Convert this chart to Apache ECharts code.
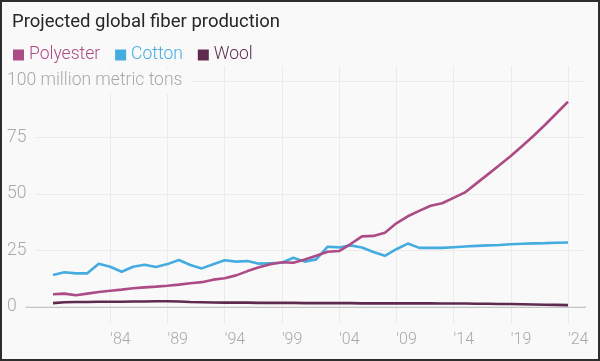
<!DOCTYPE html>
<html><head><meta charset="utf-8">
<script src="https://cdn.jsdelivr.net/npm/echarts@6/dist/echarts.min.js"></script>
<style>html,body{margin:0;padding:0;background:#f9f9f9;}#c{width:600px;height:361px;}</style>
</head><body><div id="c"></div>
<script>
const years = [];
for (let y = 1979; y <= 2024; y++) years.push(String(y));
const polyester = [5.4,5.7,5.0,5.7,6.4,7.0,7.5,8.1,8.5,8.8,9.2,9.7,10.3,10.8,11.9,12.5,13.8,15.7,17.4,18.7,19.6,19.4,20.8,22.5,24.3,24.6,27.7,31.1,31.3,32.7,36.9,40.0,42.4,44.7,45.8,48.2,50.6,54.6,58.6,62.6,66.7,71.2,75.7,80.6,85.7,90.8];
const cotton = [14.0,15.2,14.7,14.7,19.0,17.6,15.4,17.6,18.5,17.5,18.8,20.6,18.4,16.9,18.7,20.5,19.9,20.2,19.0,19.2,19.4,21.6,19.9,20.9,26.5,26.2,27.1,26.2,24.2,22.5,25.4,27.9,26.0,26.0,26.0,26.3,26.6,26.9,27.1,27.3,27.6,27.8,28.0,28.1,28.3,28.4];
const wool = [1.5,1.9,2.0,2.0,2.1,2.1,2.1,2.2,2.2,2.3,2.3,2.2,2.0,1.9,1.8,1.7,1.7,1.7,1.6,1.6,1.6,1.6,1.5,1.5,1.5,1.5,1.5,1.4,1.4,1.4,1.4,1.4,1.4,1.4,1.3,1.3,1.3,1.2,1.2,1.1,1.1,1.0,0.9,0.8,0.7,0.6];
const yTicks = [0, 25, 50, 75, 100];
const yUnit = '100 million metric tons';
const seriesNames = ['Polyester', 'Cotton', 'Wool'];
const colors = ['#ac4b85', '#45ace0', '#5e2a4e'];

const isTick = v => Number(v) >= 1984 && (Number(v) - 1984) % 5 === 0;
const chart = echarts.init(document.getElementById('c'));
const font = 'Roboto, "Noto Sans", sans-serif';
chart.setOption({
  backgroundColor: '#f9f9f9',
  animation: false,
  title: { text: 'Projected global fiber production', left: 7, top: 8,
    textStyle: { fontFamily: font, fontSize: 18.5, fontWeight: 'normal', color: '#262626' } },
  legend: { left: 8, top: 41, icon: 'rect', itemWidth: 11, itemHeight: 11, itemGap: 15,
    data: seriesNames.map((n, i) => ({ name: n, textStyle: { color: colors[i] } })),
    textStyle: { fontFamily: font, fontSize: 17.5, fontWeight: 300 } },
  graphic: [{ type: 'rect', shape: { x: 1, y: 1, width: 598, height: 359 },
    style: { fill: 'none', stroke: '#2d2d2d', lineWidth: 2 }, z: 100 }],
  grid: [
    { left: 25, right: 15, top: 81, bottom: 54.5 },
    { left: 53, right: 32, top: 66, bottom: 38 },
    { left: 53, right: 32, top: 81, bottom: 54.5 }
  ],
  xAxis: [
    { gridIndex: 0, type: 'value', min: 0, max: 1, axisLabel: { show: false }, axisTick: { show: false },
      splitLine: { show: false }, axisLine: { show: true, lineStyle: { color: '#c4c4c4', width: 2 } } },
    { gridIndex: 1, type: 'category', data: years, boundaryGap: false,
      axisLine: { show: false }, axisTick: { show: false },
      splitLine: { show: true, interval: (i, v) => isTick(v), lineStyle: { color: '#ebebeb', width: 1 } },
      axisLabel: { interval: (i, v) => isTick(v), formatter: v => "'" + String(v).slice(2),
        align: 'left', margin: 9, color: '#a8a8a8', fontFamily: font, fontSize: 16, fontWeight: 300 } },
    { gridIndex: 2, type: 'category', data: years, boundaryGap: false, show: false }
  ],
  yAxis: [
    { gridIndex: 0, type: 'value', min: 0, max: 100, interval: 25, z: 5,
      axisLine: { show: false }, axisTick: { show: false },
      splitLine: { show: true, lineStyle: { color: '#ebebeb', width: 1 } },
      axisLabel: { align: 'left', margin: 18, color: '#a8a8a8', fontFamily: font, fontSize: 17.5, fontWeight: 300,
        backgroundColor: '#f9f9f9', padding: [4, 9, 4, 0],
        formatter: v => v === 100 ? yUnit : String(v) } },
    { gridIndex: 1, type: 'value', show: false },
    { gridIndex: 2, type: 'value', min: 0, max: 100, show: false }
  ],
  series: [polyester, cotton, wool].map((d, i) => ({
    name: seriesNames[i], type: 'line', xAxisIndex: 2, yAxisIndex: 2, data: d,
    showSymbol: false, symbol: 'none', color: colors[i], lineStyle: { width: 2.6, color: colors[i] }, z: 10 - i
  }))
});
</script></body></html>
